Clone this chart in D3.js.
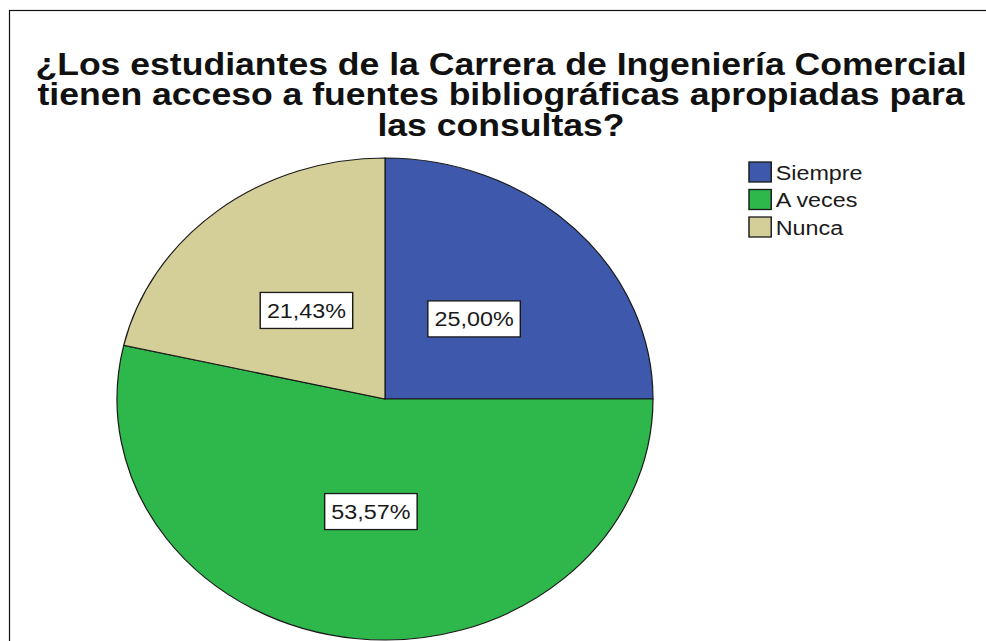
<!DOCTYPE html>
<html lang="es">
<head>
<meta charset="UTF-8">
<title>Acceso a fuentes bibliográficas</title>
<script src="https://d3js.org/d3.v7.min.js"></script>
<style>
  body { margin: 0; background: #fff; }
  svg { display: block; font-family: "Liberation Sans", Arial, sans-serif; }
</style>
</head>
<body>
<div id="chart"></div>
<script>
// data
const categories = ['Siempre', 'A veces', 'Nunca'];
const percents = [25.00, 53.57, 21.43];
const colors = ['#3e58ac', '#2eb84b', '#d4cf98'];
const titleLines = [
  '¿Los estudiantes de la Carrera de Ingeniería Comercial',
  'tienen acceso a fuentes bibliográficas apropiadas para',
  'las consultas?'
];

const width = 986, height = 641;
// the original picture is stretched sideways a little
const sx = 1.112;
const X = v => v / sx;
const radius = 241;

const esLocale = d3.formatLocale({ decimal: ',', thousands: '.', grouping: [3], currency: ['', '€'] });
const fmt = v => esLocale.format('.2f')(v) + '%';

const svg = d3.select('#chart').append('svg')
  .attr('width', width)
  .attr('height', height);

// outer frame (right and bottom edges fall outside the picture)
svg.append('rect')
  .attr('x', 9.5).attr('y', 10.5)
  .attr('width', 1000).attr('height', 700)
  .attr('fill', 'none')
  .attr('stroke', '#111')
  .attr('stroke-width', 1.2);

const root = svg.append('g').attr('transform', `scale(${sx},1)`);

// title
const title = root.append('text')
  .attr('text-anchor', 'middle')
  .attr('font-size', 32)
  .attr('font-weight', 'bold')
  .attr('fill', '#111');
const baselines = [75, 105.5, 136];
titleLines.forEach((t, i) => {
  title.append('tspan').attr('x', X(501)).attr('y', baselines[i]).text(t);
});

// pie
const pie = d3.pie().sort(null).value(d => d)(percents);
const arc = d3.arc().innerRadius(0).outerRadius(radius);
const labelArc = d3.arc().innerRadius(radius * 0.47).outerRadius(radius * 0.47);

const pieG = root.append('g').attr('transform', `translate(${X(385)},399)`);

pieG.selectAll('path')
  .data(pie)
  .enter()
  .append('path')
  .attr('d', arc)
  .attr('fill', (d, i) => colors[i])
  .attr('stroke', '#1a1a1a')
  .attr('stroke-width', 1.1);

// value labels in white boxes
const labels = pieG.selectAll('g.lbl')
  .data(pie)
  .enter()
  .append('g')
  .attr('class', 'lbl')
  .attr('transform', d => `translate(${labelArc.centroid(d)})`);

labels.append('text')
  .attr('text-anchor', 'middle')
  .attr('dy', '0.36em')
  .attr('font-size', 21)
  .attr('fill', '#1a1a1a')
  .text(d => fmt(d.data));

labels.each(function() {
  const g = d3.select(this);
  const bb = g.select('text').node().getBBox();
  g.insert('rect', 'text')
    .attr('x', bb.x - 6)
    .attr('y', -18)
    .attr('width', bb.width + 12)
    .attr('height', 36)
    .attr('fill', '#fff')
    .attr('stroke', '#1a1a1a')
    .attr('stroke-width', 1.3);
});

// legend
const legend = root.append('g').attr('transform', `translate(${X(749)},162)`);
const items = legend.selectAll('g')
  .data(categories)
  .enter()
  .append('g')
  .attr('transform', (d, i) => `translate(0,${i * 27.5})`);

items.append('rect')
  .attr('width', 20).attr('height', 20)
  .attr('fill', (d, i) => colors[i])
  .attr('stroke', '#1a1a1a')
  .attr('stroke-width', 1.3);

items.append('text')
  .attr('x', 24)
  .attr('y', 10)
  .attr('dy', '0.36em')
  .attr('font-size', 21)
  .attr('fill', '#1a1a1a')
  .text(d => d);
</script>
</body>
</html>
